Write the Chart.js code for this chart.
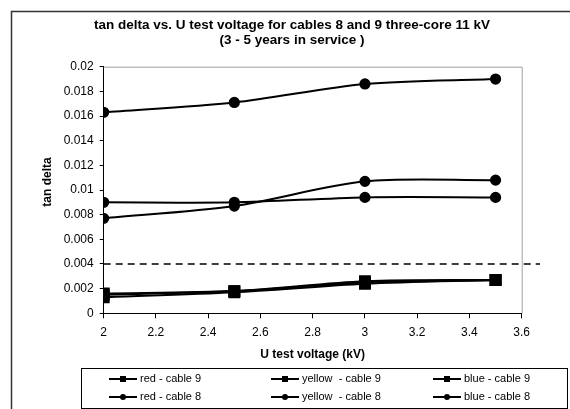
<!DOCTYPE html>
<html>
<head>
<meta charset="utf-8">
<script src="https://cdn.jsdelivr.net/npm/chart.js@4.4.1/dist/chart.umd.min.js"></script>
<style>
  html, body { margin: 0; padding: 0; background: #fff; }
  #myChart { display: block; }
</style>
</head>
<body>
<canvas id="myChart" width="570" height="409"></canvas>
<script>
// ######### data
// ###########################################

const voltages = [2, 2.5, 3, 3.5];

const red9    = [0.0016, 0.0018, 0.0026, 0.0027];
const yellow9 = [0.0013, 0.0017, 0.0024, 0.0027];
const blue9   = [0.0015, 0.0018, 0.0025, 0.0027];

const red8    = [0.0090, 0.0090, 0.0094, 0.0094];
const yellow8 = [0.0077, 0.0087, 0.0107, 0.0108];
const blue8   = [0.0163, 0.0171, 0.0186, 0.0190];

const limitValue = 0.004;
const limitX = [2, 3.67];

const titleLines = ['tan delta vs. U test voltage for cables 8 and 9 three-core 11 kV', '(3 - 5 years in service )'];
const xTitle = 'U test voltage (kV)';
const yTitle = 'tan delta';

const FONT = '"Liberation Sans", Arial, sans-serif';

function pts(ys) {
    return voltages.map((x, i) => ({ x: x, y: ys[i] }));
}

function serie(label, ys, style) {
    return {
        label: label,
        data: pts(ys),
        showLine: true,
        borderColor: '#000',
        backgroundColor: '#000',
        borderWidth: 2,
        tension: 0.3,
        pointStyle: style,
        pointRadius: style === 'rect' ? 7 : 4.6,
        pointHoverRadius: style === 'rect' ? 7 : 4.6
    };
}

// ######### dibujos extra (marco, titulos, leyenda)
// ###########################################

const extras = {
    id: 'extras',
    beforeDatasetsDraw(chart) {
        const { ctx, chartArea: a } = chart;
        ctx.save();
        ctx.strokeStyle = '#a0a0a0';
        ctx.lineWidth = 1;
        ctx.beginPath();
        ctx.moveTo(a.left, a.top + 0.5);
        ctx.lineTo(a.right + 0.5, a.top + 0.5);
        ctx.lineTo(a.right + 0.5, a.bottom);
        ctx.stroke();
        ctx.restore();
    },
    afterDraw(chart) {
        const { ctx, chartArea: a } = chart;
        ctx.save();

        // marco exterior
        ctx.strokeStyle = '#333';
        ctx.lineWidth = 1.5;
        ctx.beginPath();
        ctx.moveTo(11.5, 409);
        ctx.lineTo(11.5, 11.5);
        ctx.lineTo(570, 11.5);
        ctx.stroke();

        // titulo
        ctx.fillStyle = '#000';
        ctx.textAlign = 'center';
        ctx.textBaseline = 'middle';
        ctx.font = 'bold 13.5px ' + FONT;
        ctx.fillText(titleLines[0], 292, 25);
        ctx.fillText(titleLines[1], 292, 40);

        // titulos de ejes
        ctx.font = 'bold 12px ' + FONT;
        ctx.fillText(xTitle, (a.left + a.right) / 2, 355);
        ctx.save();
        ctx.translate(48, 182);
        ctx.rotate(-Math.PI / 2);
        ctx.fillText(yTitle, 0, 0);
        ctx.restore();

        // leyenda
        ctx.strokeStyle = '#000';
        ctx.lineWidth = 1;
        ctx.strokeRect(81.5, 368.5, 486, 40);
        ctx.font = '11px ' + FONT;
        ctx.textAlign = 'left';
        const cols = [109, 271, 433];
        const rows = [379, 397];
        const items = chart.data.datasets.filter(d => !d.isLimit);
        items.forEach((d, i) => {
            const x = cols[i % 3];
            const y = rows[Math.floor(i / 3)];
            ctx.lineWidth = 2;
            ctx.beginPath();
            ctx.moveTo(x, y);
            ctx.lineTo(x + 28, y);
            ctx.stroke();
            ctx.fillStyle = '#000';
            if (d.pointStyle === 'rect') {
                ctx.fillRect(x + 11, y - 3, 6, 6);
            } else {
                ctx.beginPath();
                ctx.arc(x + 14, y, 3, 0, Math.PI * 2);
                ctx.fill();
            }
            ctx.fillText(d.label, x + 31, y);
        });

        ctx.restore();
    }
};

// ######### grafico
// ###########################################

const myChart = document.getElementById('myChart');

if(myChart) {
    var ctx = myChart.getContext('2d');
    var chart = new Chart(ctx, {
        type: 'scatter',
        data: {
            datasets: [
                serie('red - cable 9', red9, 'rect'),
                serie('yellow  - cable 9', yellow9, 'rect'),
                serie('blue - cable 9', blue9, 'rect'),
                serie('red - cable 8', red8, 'circle'),
                serie('yellow  - cable 8', yellow8, 'circle'),
                serie('blue - cable 8', blue8, 'circle'),
                {
                    isLimit: true,
                    data: limitX.map(x => ({ x: x, y: limitValue })),
                    showLine: true,
                    borderColor: '#000',
                    borderWidth: 1.6,
                    borderDash: [7, 5],
                    pointRadius: 0,
                    clip: false
                }
            ]
        },
        options: {
            responsive: false,
            animation: false,
            devicePixelRatio: 1,
            layout: { padding: { top: 66.7, right: 48.3, bottom: 0, left: 0 } },
            plugins: {
                legend: { display: false },
                title: { display: false },
                tooltip: { enabled: false }
            },
            scales: {
                x: {
                    type: 'linear',
                    min: 2,
                    max: 3.6,
                    afterFit: s => { s.height = 409 - 313.3; },
                    ticks: {
                        stepSize: 0.2,
                        color: '#000',
                        padding: 7,
                        font: { family: FONT, size: 12 },
                        callback: v => String(+v.toFixed(1))
                    },
                    grid: { drawOnChartArea: false, color: '#000', tickLength: 5, tickColor: '#000' },
                    border: { color: '#000', width: 1 }
                },
                y: {
                    min: 0,
                    max: 0.02,
                    afterFit: s => { s.width = 103.7; },
                    ticks: {
                        stepSize: 0.002,
                        color: '#000',
                        padding: 6,
                        font: { family: FONT, size: 12 },
                        callback: v => String(+v.toFixed(3))
                    },
                    grid: { drawOnChartArea: false, color: '#000', tickLength: 4, tickColor: '#000' },
                    border: { color: '#000', width: 1 }
                }
            }
        },
        plugins: [extras]
    });
}
</script>
</body>
</html>
